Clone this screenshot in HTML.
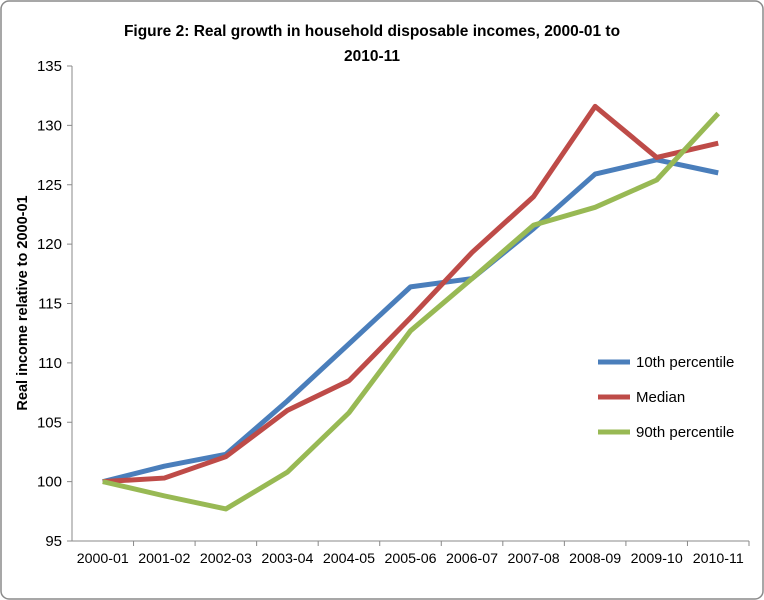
<!DOCTYPE html>
<html><head><meta charset="utf-8"><style>
body{margin:0;background:#fff;}
svg{display:block;font-family:"Liberation Sans",Arial,sans-serif;}
</style></head><body>
<svg id="chart" width="764" height="600">
<rect x="1" y="1" width="762" height="598" rx="8" fill="#fff" stroke="#8a8a8a" stroke-width="1.5"/>
<text x="372" y="36" text-anchor="middle" font-size="15.5" font-weight="bold">Figure 2: Real growth in household disposable incomes, 2000-01 to</text>
<text x="372" y="61" text-anchor="middle" font-size="15.5" font-weight="bold">2010-11</text>
<text transform="translate(27,303) rotate(-90)" text-anchor="middle" font-size="14.5" font-weight="bold">Real income relative to 2000-01</text>
<g id="axes"></g><g id="series"></g><g id="legend"></g>
</svg>
<script>
const categories=["2000-01","2001-02","2002-03","2003-04","2004-05","2005-06","2006-07","2007-08","2008-09","2009-10","2010-11"];
const p10=[100,101.3,102.3,106.8,111.6,116.4,117.1,121.3,125.9,127.1,126.0];
const median=[100,100.3,102.1,106,108.5,113.8,119.3,124,131.6,127.3,128.5];
const p90=[100,98.8,97.7,100.8,105.8,112.7,117.1,121.6,123.1,125.4,131.0];
const yTicks=[95,100,105,110,115,120,125,130,135];
const seriesNames=["10th percentile","Median","90th percentile"];
const seriesColors=["#4a7ebb","#be4b48","#98b954"];
const NS="http://www.w3.org/2000/svg";
const x0=72,x1=749,yTop=66,yBot=541,yMin=95,yMax=135;
const step=(x1-x0)/categories.length;
function xs(i){return x0+step*(i+0.5);}
function ys(v){return yBot-(v-yMin)/(yMax-yMin)*(yBot-yTop);}
function mk(t,a,p){const e=document.createElementNS(NS,t);for(const k in a)e.setAttribute(k,a[k]);p.appendChild(e);return e;}
const axes=document.getElementById('axes');
let l=mk('line',{x1:x0,y1:yTop,x2:x0,y2:yBot,stroke:'#888','stroke-width':1},axes);


l=mk('line',{x1:x0,y1:yBot,x2:x1,y2:yBot,stroke:'#888','stroke-width':1},axes);


yTicks.forEach(v=>{
 const t=mk('line',{x1:x0-5,y1:ys(v),x2:x0,y2:ys(v),stroke:'#888'},axes);
 
 
 const tx=mk('text',{x:x0-10,y:ys(v)+5,'text-anchor':'end','font-size':15},axes);
 tx.textContent=v;
 
 
});
categories.forEach((c,i)=>{
 const t=mk('line',{x1:x0+step*(i+1),y1:yBot,x2:x0+step*(i+1),y2:yBot+5,stroke:'#888'},axes);
 
 
 const tx=mk('text',{x:xs(i),y:yBot+22,'text-anchor':'middle','font-size':14.2},axes);
 tx.textContent=c;
 
 
});
const sg=document.getElementById('series');
[p10,median,p90].forEach((d,si)=>{
 const pts=d.map((v,i)=>xs(i)+','+ys(v)).join(' ');
 const pl=mk('polyline',{points:pts,fill:'none',stroke:seriesColors[si],'stroke-width':5,'stroke-linejoin':'round'},sg);
 
 
});
const lg=document.getElementById('legend');
seriesNames.forEach((n,i)=>{
 const y=362+i*35;
 const ln=mk('line',{x1:598,y1:y,x2:630,y2:y,stroke:seriesColors[i],'stroke-width':5},lg);
 
 
 const tx=mk('text',{x:636,y:y+5,'font-size':15},lg);
 tx.textContent=n;
 
 
});
</script>
</body></html>
